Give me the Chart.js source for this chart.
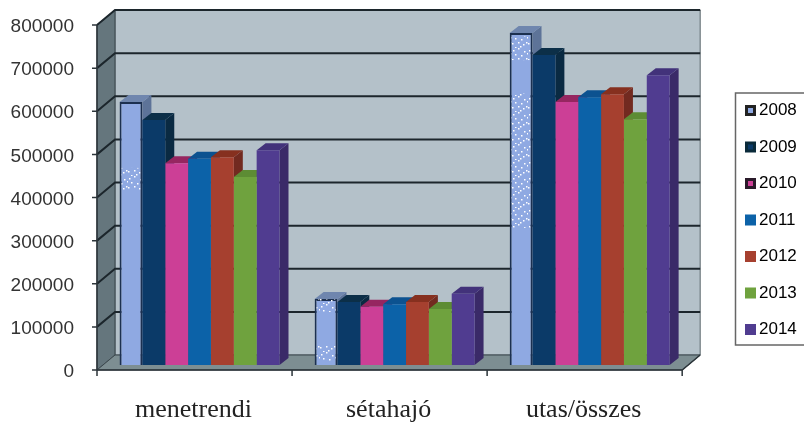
<!DOCTYPE html>
<html>
<head>
<meta charset="utf-8">
<script src="https://cdn.jsdelivr.net/npm/chart.js@4"></script>
<style>
  html, body { margin: 0; padding: 0; background: #fff; }
  canvas { display: block; filter: blur(0.45px); }
</style>
</head>
<body>
<canvas id="chart" width="804" height="423"></canvas>
<script>
const categories = ["menetrendi", "sétahajó", "utas/összes"];
const years = ["2008", "2009", "2010", "2011", "2012", "2013", "2014"];
const v2008 = [610000, 153000, 770000];
const v2009 = [568000, 146000, 719000];
const v2010 = [468000, 135000, 610000];
const v2011 = [478000, 141000, 621000];
const v2012 = [482000, 146000, 628000];
const v2013 = [436000, 130000, 570000];
const v2014 = [498000, 165000, 672000];
const seriesValues = [v2008, v2009, v2010, v2011, v2012, v2013, v2014];
const faceColors = ["#8fa9e2", "#0b3a68", "#cc3f96", "#0c62a8", "#a6402f", "#6fa23e", "#503c90"];
const sideColors = ["#5d7398", "#0a2a42", "#7c1f52", "#0a4a80", "#722a20", "#4d7a2c", "#3a2a68"];
const topColors = ["#6f86ae", "#0c2f48", "#962660", "#0c5290", "#86301f", "#5d8c34", "#42327a"];
const legendBorders = ["#222", "#0a2a3a", "#2a1a2a", "#1465a8", "#b04a48", "#78a058", "#54478f"];
// white scan speckle on the 2008 bars: category, from value, to value
const speckCategory = [0, 1, 1, 2, 2];
const speckFrom = [406000, 123000, 7000, 707000, 318000];
const speckTo = [457000, 153000, 46000, 763000, 630000];
const speckDots = [[1, 2], [6, 0], [12, 3], [3, 6], [9, 7], [15, 5], [0, 11], [6, 10], [11, 12], [14, 10], [3, 15], [8, 14]];

// 3d offsets from the plane the bars are drawn in
const FRONT = { x: -5, y: 5 };
const BACK = { x: 13, y: -10 };
const DEPTH = { x: 9, y: -7 };

function poly(ctx, pts, fill, stroke) {
  ctx.beginPath();
  pts.forEach((p, i) => (i ? ctx.lineTo(p[0], p[1]) : ctx.moveTo(p[0], p[1])));
  ctx.closePath();
  ctx.fillStyle = fill;
  ctx.fill();
  if (stroke) {
    ctx.strokeStyle = stroke;
    ctx.stroke();
  }
}

function speckPattern(ctx) {
  const tile = document.createElement("canvas");
  tile.width = 16;
  tile.height = 16;
  const t = tile.getContext("2d");
  t.fillStyle = "#fff";
  speckDots.forEach((d) => t.fillRect(d[0], d[1], 1.5, 1.5));
  return ctx.createPattern(tile, "repeat");
}

const walls3d = {
  id: "walls3d",
  afterLayout(chart) {
    // legend sits further right than the layout would put it
    chart.legend.left = 728;
    chart.legend.right = 804;
    chart.legend.top -= 1.5;
    chart.legend.bottom -= 1.5;
  },
  beforeDraw(chart) {
    const ctx = chart.ctx;
    ctx.save();
    ctx.strokeStyle = "#666";
    ctx.lineWidth = 1.5;
    ctx.strokeRect(735.5, 93, 75, 252);
    ctx.restore();
  },
  beforeDatasetsDraw(chart) {
    const ctx = chart.ctx;
    const a = chart.chartArea;
    const y = chart.scales.y;
    ctx.save();
    ctx.lineWidth = 1;
    const fl = a.left + FRONT.x, fr = a.right + FRONT.x, ft = a.top + FRONT.y, fb = a.bottom + FRONT.y;
    const bl = a.left + BACK.x, br = a.right + BACK.x, bt = a.top + BACK.y, bb = a.bottom + BACK.y;
    poly(ctx, [[bl, bt], [br, bt], [br, bb], [bl, bb]], "#b4c1c9", "#5a666c");
    poly(ctx, [[fl, ft], [bl, bt], [bl, bb], [fl, fb]], "#65767d", "#3a464c");
    poly(ctx, [[fl, fb], [bl, bb], [br, bb], [fr, fb]], "#7d8e92", "#3a464c");

    // grid lines run along the left wall and across the back wall
    ctx.strokeStyle = "#1c262c";
    ctx.lineWidth = 2;
    y.ticks.forEach((t) => {
      const py = y.getPixelForValue(t.value);
      if (t.value === 0) return;
      ctx.beginPath();
      ctx.moveTo(fl, py + FRONT.y);
      ctx.lineTo(bl, py + BACK.y);
      ctx.lineTo(br, py + BACK.y);
      ctx.stroke();
    });

    // front axis lines and tick marks
    ctx.strokeStyle = "#2c353a";
    ctx.lineWidth = 1.5;
    ctx.beginPath();
    ctx.moveTo(fl, ft);
    ctx.lineTo(fl, fb);
    ctx.lineTo(fr, fb);
    ctx.lineTo(br, bb);
    y.ticks.forEach((t) => {
      const py = y.getPixelForValue(t.value) + FRONT.y;
      ctx.moveTo(fl - 5, py);
      ctx.lineTo(fl, py);
    });
    const step = (a.right - a.left) / categories.length;
    for (let i = 0; i <= categories.length; i++) {
      ctx.moveTo(fl + i * step, fb);
      ctx.lineTo(fl + i * step, fb + 6);
    }
    ctx.stroke();

    // top and side faces of the bars, the front face comes from the library
    chart.data.datasets.forEach((ds, di) => {
      chart.getDatasetMeta(di).data.forEach((bar) => {
        const l = bar.x - bar.width / 2, r = bar.x + bar.width / 2, t = bar.y, b = bar.base;
        poly(ctx, [[r, t], [r + DEPTH.x, t + DEPTH.y], [r + DEPTH.x, b + DEPTH.y], [r, b]], sideColors[di]);
        poly(ctx, [[l, t], [l + DEPTH.x, t + DEPTH.y], [r + DEPTH.x, t + DEPTH.y], [r, t]], topColors[di]);
      });
    });
    ctx.restore();
  },
  afterDatasetsDraw(chart) {
    const ctx = chart.ctx;
    const y = chart.scales.y;
    const bars = chart.getDatasetMeta(0).data;
    ctx.save();
    ctx.fillStyle = speckPattern(ctx);
    speckCategory.forEach((c, i) => {
      const top = y.getPixelForValue(speckTo[i]);
      const bottom = y.getPixelForValue(speckFrom[i]);
      ctx.fillRect(bars[c].x - bars[c].width / 2 + 2, top, bars[c].width - 4, bottom - top);
    });
    ctx.restore();
  },
  afterDraw(chart) {
    // swatches sit closer to the text than the legend would draw them
    const ctx = chart.ctx;
    ctx.save();
    chart.legend.legendHitBoxes.forEach((box, i) => {
      const sx = 745, sy = box.top + 3;
      ctx.fillStyle = i < 3 ? legendBorders[i] : faceColors[i];
      ctx.fillRect(sx, sy, 11, 11);
      if (i < 3) {
        ctx.fillStyle = faceColors[i];
        ctx.fillRect(sx + 3, sy + 3, 5, 5);
      }
    });
    ctx.restore();
  }
};

new Chart(document.getElementById("chart"), {
  type: "bar",
  data: {
    labels: categories,
    datasets: years.map((year, i) => ({
      label: year,
      data: seriesValues[i],
      backgroundColor: faceColors[i],
      borderColor: i === 0 ? "#1c3050" : faceColors[i],
      borderWidth: i === 0 ? 2 : 0
    }))
  },
  options: {
    responsive: false,
    animation: false,
    layout: { autoPadding: false, padding: { top: 20, bottom: 0, left: 0, right: 38 } },
    datasets: { bar: { categoryPercentage: 0.82, barPercentage: 1 } },
    plugins: {
      tooltip: { enabled: false },
      legend: {
        position: "right",
        labels: {
          boxWidth: 3,
          boxHeight: 11,
          padding: 19.5,
          color: "#222",
          font: { family: "'Liberation Sans'", size: 17 },
          generateLabels() {
            return years.map((year, i) => ({
              text: year,
              fillStyle: "rgba(0,0,0,0)",
              lineWidth: 0,
              datasetIndex: i
            }));
          }
        }
      }
    },
    scales: {
      x: {
        afterFit(scale) { scale.height = 58; },
        grid: { display: false },
        border: { display: false },
        ticks: {
          labelOffset: -6,
          padding: 22,
          maxRotation: 0,
          color: "#222",
          font: { family: "'Liberation Serif'", size: 26 }
        }
      },
      y: {
        min: 0,
        max: 800000,
        afterFit(scale) {
          scale.width = 102;
          // ticks.padding would otherwise push the plot area down
          scale.paddingTop = 0;
          scale.paddingBottom = 0;
        },
        grid: { display: false },
        border: { display: false },
        ticks: {
          stepSize: 100000,
          labelOffset: 7,
          padding: 20,
          color: "#333",
          font: { family: "'Liberation Sans'", size: 19 },
          callback: (v) => String(v)
        }
      }
    }
  },
  plugins: [walls3d]
});
</script>
</body>
</html>
